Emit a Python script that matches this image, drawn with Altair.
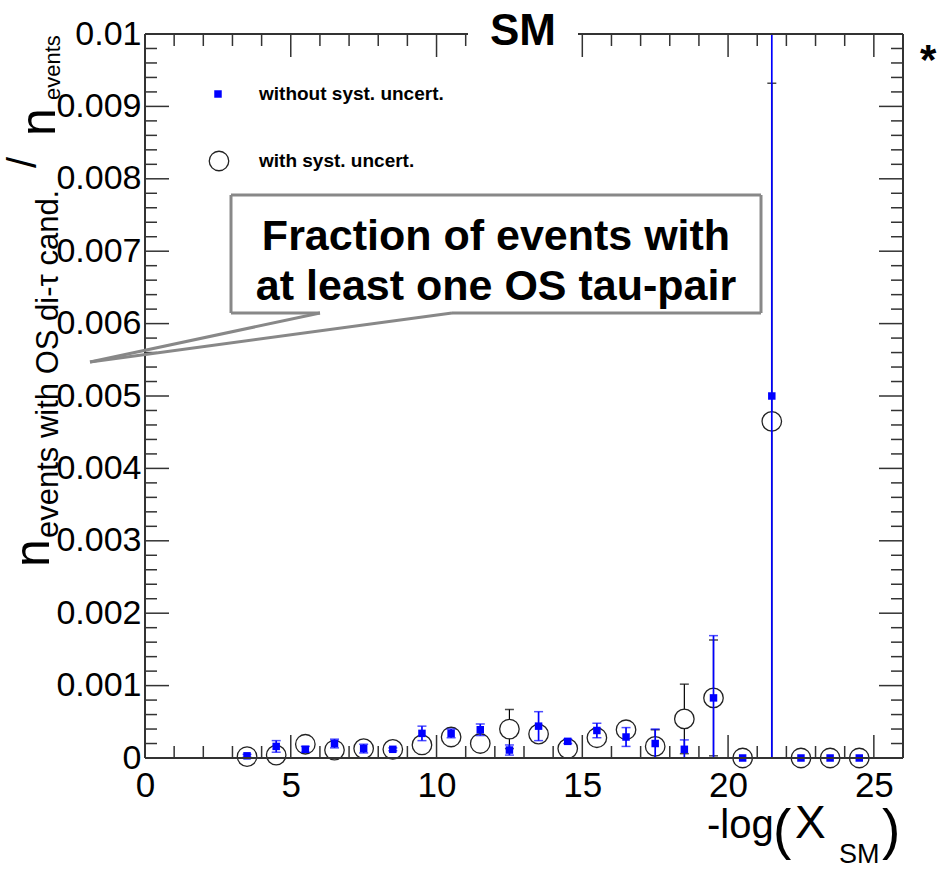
import altair as alt
import pandas as pd

# ---------------- data ----------------
x_centers = [3.5, 4.5, 5.5, 6.5, 7.5, 8.5, 9.5, 10.5, 11.5, 12.5, 13.5,
             14.5, 15.5, 16.5, 17.5, 18.5, 19.5, 20.5, 21.5, 22.5, 23.5, 24.5]
without_vals = [0.00003, 0.00016, 0.00012, 0.00020, 0.00013, 0.00012, 0.00034,
                0.00034, 0.00039, 0.00011, 0.00044, 0.00023, 0.00038, 0.00029,
                0.00020, 0.00012, 0.00083, 0.0, 0.0050, 0.0, 0.0, 0.0]
without_errs = [0.00002, 0.00008, 0.00004, 0.00006, 0.00006, 0.00002, 0.00010,
                0.00006, 0.00008, 0.00007, 0.00020, 0.00003, 0.00010, 0.00013,
                0.00020, 0.00013, 0.00086, 0.0, 0.0052, 0.0, 0.0, 0.0]
with_vals = [0.00002, 0.00004, 0.00019, 0.00011, 0.00013, 0.00012, 0.00018,
             0.00029, 0.00020, 0.00040, 0.00033, 0.00013, 0.00028, 0.00039,
             0.00016, 0.00054, 0.00083, 0.0, 0.00465, 0.0, 0.0, 0.0]
with_errs = [0.00002, 0.00004, 0.00008, 0.00006, 0.00006, 0.00004, 0.00008,
             0.00008, 0.00008, 0.00027, 0.00010, 0.00004, 0.00010, 0.00010,
             0.00023, 0.00048, 0.00080, 0.0, 0.00467, 0.0, 0.0, 0.0]

x_tick_labels = [0, 5, 10, 15, 20, 25]
y_tick_labels = [0, 0.001, 0.002, 0.003, 0.004, 0.005, 0.006, 0.007, 0.008, 0.009, 0.01]

X_MAX = 26
Y_MAX = 0.01
W, H = 758, 724
FONT = "Liberation Sans"
BLUE = "#0000ff"
FRAME = "#333333"

df = pd.DataFrame({
    "x": x_centers,
    "vwo": without_vals, "ewo": without_errs,
    "vw": with_vals, "ew": with_errs,
})

xs = alt.Scale(domain=[0, X_MAX], nice=False, zero=False)
ys = alt.Scale(domain=[0, Y_MAX], nice=False, zero=False)
x_axis = alt.Axis(values=x_tick_labels, labelFontSize=35, labelFont=FONT, labelColor="black",
                  ticks=False, domain=False, grid=False, labelPadding=10, title=None,
                  labelFlush=False)
y_axis = alt.Axis(values=y_tick_labels, format=".3~f", labelFontSize=34, labelFont=FONT,
                  labelColor="black", ticks=False, domain=False, grid=False,
                  labelPadding=4, title=None, labelFlush=False)


def X(field):
    return alt.X(field, type="quantitative", scale=xs, axis=x_axis)


def Y(field):
    return alt.Y(field, type="quantitative", scale=ys, axis=y_axis)


base = alt.Chart(df).transform_calculate(
    lo_w=f"max(0, datum.vw - datum.ew)", hi_w=f"min({Y_MAX}, datum.vw + datum.ew)",
    lo_wo=f"max(0, datum.vwo - datum.ewo)", hi_wo=f"min({Y_MAX}, datum.vwo + datum.ewo)",
)

# with syst. uncert. (black open circles)
err_w = base.transform_filter("datum.ew > 0").mark_rule(color="black", strokeWidth=1.2).encode(
    x=X("x"), y=Y("lo_w"), y2="hi_w:Q")
cap_w_hi = base.transform_filter("datum.ew > 0").mark_tick(
    orient="horizontal", color="black", size=9, thickness=1.5).encode(x=X("x"), y=Y("hi_w"))
cap_w_lo = base.transform_filter("datum.ew > 0").mark_tick(
    orient="horizontal", color="black", size=9, thickness=1.5).encode(x=X("x"), y=Y("lo_w"))
circles = base.mark_point(shape="circle", size=380, filled=True, fill="white",
                          stroke="#222222", strokeWidth=1.3, opacity=1).encode(x=X("x"), y=Y("vw"))

# without syst. uncert. (blue squares)
err_wo = base.transform_filter("datum.ewo > 0").mark_rule(color=BLUE, strokeWidth=1.7).encode(
    x=X("x"), y=Y("lo_wo"), y2="hi_wo:Q")
cap_wo_hi = base.transform_filter("datum.ewo > 0").mark_tick(
    orient="horizontal", color=BLUE, size=9, thickness=1.5).encode(x=X("x"), y=Y("hi_wo"))
cap_wo_lo = base.transform_filter("datum.ewo > 0").mark_tick(
    orient="horizontal", color=BLUE, size=9, thickness=1.5).encode(x=X("x"), y=Y("lo_wo"))
squares = base.mark_square(size=56, color=BLUE, opacity=1).encode(x=X("x"), y=Y("vwo"))

# ---------------- ROOT-style frame with inward ticks ----------------
x_major = [5, 10, 15, 20, 25]
x_minor = [t for t in range(1, X_MAX) if t % 5 != 0]
y_major = [round(0.001 * i, 4) for i in range(1, 10)]
y_minor = [round(0.0002 * i, 4) for i in range(1, 50) if i % 5 != 0]

dxM = pd.DataFrame({"t": x_major})
dxm = pd.DataFrame({"t": x_minor})
dyM = pd.DataFrame({"t": y_major})
dym = pd.DataFrame({"t": y_minor})

tick_layers = []
for d, ln in ((dxM, 23), (dxm, 12)):
    tick_layers.append(alt.Chart(d).mark_rule(color=FRAME, strokeWidth=1.5).encode(
        x=X("t"), y=alt.value(H), y2=alt.value(H - ln)))
    tick_layers.append(alt.Chart(d).mark_rule(color=FRAME, strokeWidth=1.5).encode(
        x=X("t"), y=alt.value(0), y2=alt.value(ln)))
for d, ln in ((dyM, 24), (dym, 12)):
    tick_layers.append(alt.Chart(d).mark_rule(color=FRAME, strokeWidth=1.5).encode(
        y=Y("t"), x=alt.value(0), x2=alt.value(ln)))
    tick_layers.append(alt.Chart(d).mark_rule(color=FRAME, strokeWidth=1.5).encode(
        y=Y("t"), x=alt.value(W), x2=alt.value(W - ln)))

one = pd.DataFrame({"k": [0]})


def seg(x1, y1, x2, y2, color=FRAME, width=2.0):
    return alt.Chart(one).mark_rule(color=color, strokeWidth=width).encode(
        x=alt.value(x1), y=alt.value(y1), x2=alt.value(x2), y2=alt.value(y2))


def box(x1, y1, x2, y2, color="white"):
    return alt.Chart(one).mark_rect(color=color, opacity=1).encode(
        x=alt.value(x1), y=alt.value(y1), x2=alt.value(x2), y2=alt.value(y2))


def txt(s, x, y, size, bold=False, angle=0, align="left", baseline="alphabetic"):
    kw = dict(text=s, fontSize=size, font=FONT, fontWeight="bold" if bold else "normal",
              align=align, baseline=baseline, color="black")
    if angle:
        kw["angle"] = angle
    return alt.Chart(one).mark_text(**kw).encode(x=alt.value(x), y=alt.value(y))


frame = [seg(0, 0, W, 0), seg(0, H, W, H), seg(0, 0, 0, H), seg(W, 0, W, H)]

# title with white patch over frame
title_layers = [box(323, -34, 433, 16), txt("SM", 378, 11, 44, bold=True, align="center"),
                txt("*", 775, 40, 42, bold=True)]

# legend
leg_sq = alt.Chart(one).mark_square(size=56, color=BLUE, opacity=1).encode(
    x=alt.value(73), y=alt.value(60))
leg_ci = alt.Chart(one).mark_point(shape="circle", size=380, filled=False, stroke="#222222",
                                   strokeWidth=1.3, opacity=1).encode(
    x=alt.value(74), y=alt.value(127))
legend = [leg_sq, leg_ci,
          txt("without syst. uncert.", 114, 60, 19, bold=True, baseline="middle"),
          txt("with syst. uncert.", 114, 127, 19, bold=True, baseline="middle")]

# annotation callout
GREY = "#888888"
annot = [
    box(86, 161, 616, 279),
    seg(86, 161, 616, 161, GREY, 3), seg(86, 161, 86, 279, GREY, 3),
    seg(616, 161, 616, 279, GREY, 3), seg(86, 279, 175, 279, GREY, 3),
    seg(307, 279, 616, 279, GREY, 3),
    seg(-55, 328, 175, 279, GREY, 3), seg(-55, 328, 307, 279, GREY, 3),
    txt("Fraction of events with", 351, 216, 43, bold=True, align="center"),
    txt("at least one OS tau-pair", 351, 266, 43, bold=True, align="center"),
]

# axis titles built from pieces (sub-/superscripts)
ytitle = [
    txt("n", -96, 533, 50, angle=270),
    txt("events with OS di-τ cand.", -87, 504, 31, angle=270),
    txt("/", -109, 134, 40, angle=270),
    txt("n", -90, 102, 50, angle=270),
    txt("events", -85, 66, 22, angle=270),
]
xtitle = [
    txt("-log", 562, 804, 40),
    txt("(", 628, 814, 55),
    txt("X", 650, 804, 46),
    txt("SM", 694, 829, 27),
    txt(")", 737, 814, 55),
]

layers = ([err_w, cap_w_hi, cap_w_lo, circles, err_wo, cap_wo_hi, cap_wo_lo, squares]
          + tick_layers + frame + title_layers + legend + annot + ytitle + xtitle)

chart = alt.layer(*layers).properties(
    width=W, height=H,
    padding={"left": 145, "top": 34, "right": 39, "bottom": 111},
    autosize=alt.AutoSizeParams(type="none"),
    background="white",
).configure_view(stroke=None)

chart.save("out.html", embed_options={"renderer": "svg", "actions": False})
